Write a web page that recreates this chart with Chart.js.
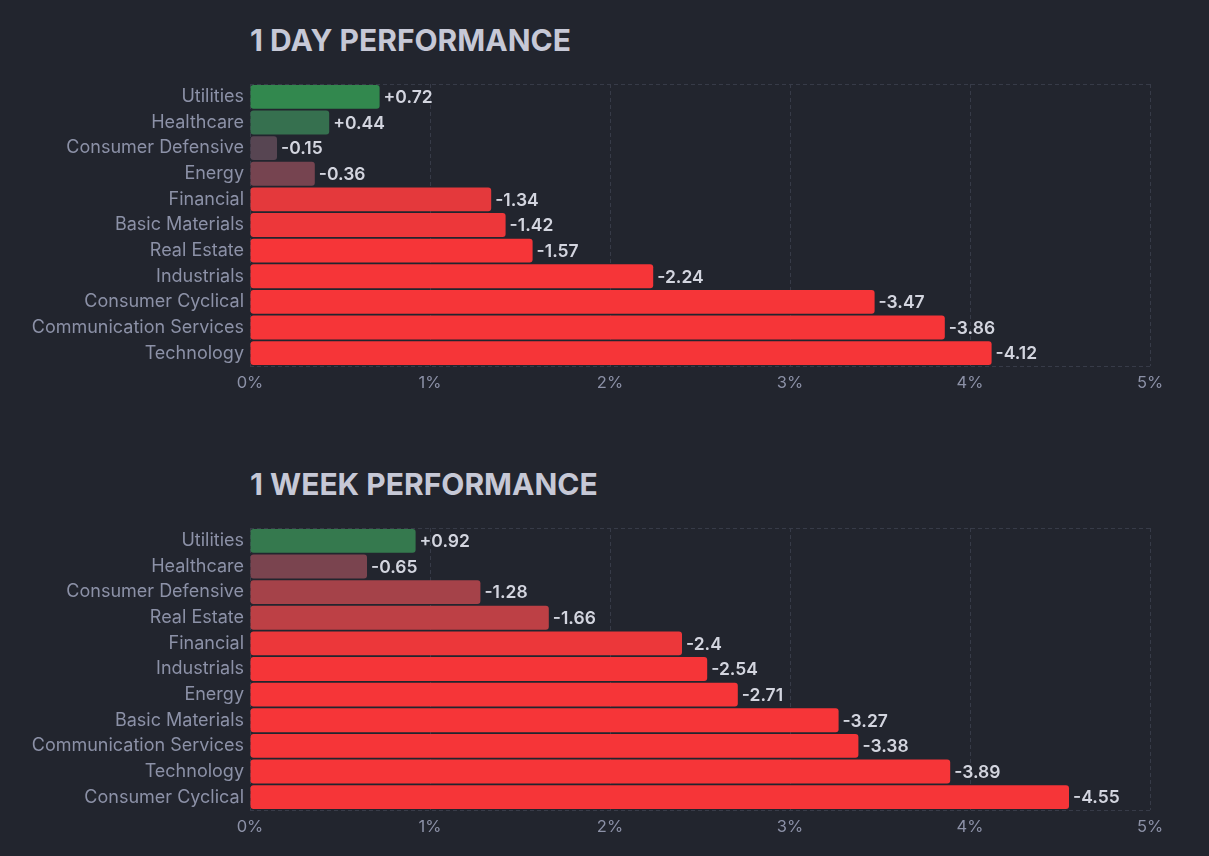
<!DOCTYPE html>
<html>
<head>
<meta charset="utf-8">
<script src="https://cdn.jsdelivr.net/npm/chart.js@4.4.1/dist/chart.umd.min.js"></script>
<style>
  html, body { margin: 0; padding: 0; background: #22252e; }
  body { width: 1209px; height: 856px; position: relative; overflow: hidden; font-family: Inter, sans-serif; }
  .title { position: absolute; left: 250px; font: 700 30px/30px Inter, sans-serif; color: #c6c8d6; }
  canvas { position: absolute; left: 0; }
</style>
</head>
<body>
<div class="title" style="top:25px">1 DAY PERFORMANCE</div>
<canvas id="dayChart" width="1209" height="340" style="top:60px"></canvas>
<div class="title" style="top:469px">1 WEEK PERFORMANCE</div>
<canvas id="weekChart" width="1209" height="340" style="top:504px"></canvas>
<script>
// ── Data ───────────────────────────────────────────────────
const dayLabels = ['Utilities', 'Healthcare', 'Consumer Defensive', 'Energy', 'Financial',
  'Basic Materials', 'Real Estate', 'Industrials', 'Consumer Cyclical',
  'Communication Services', 'Technology'];
const dayValues = [0.72, 0.44, -0.15, -0.36, -1.34, -1.42, -1.57, -2.24, -3.47, -3.86, -4.12];

const weekLabels = ['Utilities', 'Healthcare', 'Consumer Defensive', 'Real Estate', 'Financial',
  'Industrials', 'Energy', 'Basic Materials', 'Communication Services', 'Technology',
  'Consumer Cyclical'];
const weekValues = [0.92, -0.65, -1.28, -1.66, -2.4, -2.54, -2.71, -3.27, -3.38, -3.89, -4.55];

const xTickMin = 0;
const xTickMax = 5;

// ── Colours ────────────────────────────────────────────────
const negStops = ['#414554', '#8b444e', '#bf4045', '#f63538'];
const posStops = ['#414554', '#35764e', '#2f9e4f', '#30cc5a'];
const gridColor = '#373b48';

function hex(c) {
  return [1, 3, 5].map(i => parseInt(c.slice(i, i + 2), 16));
}
function barColor(v, step) {
  const stops = v < 0 ? negStops : posStops;
  const t = Math.min(Math.abs(v) / step, 3);
  const i = Math.min(Math.floor(t), 2);
  const f = t - i;
  const a = hex(stops[i]), b = hex(stops[i + 1]);
  return 'rgb(' + a.map((x, k) => Math.round(x + (b[k] - x) * f)).join(',') + ')';
}

// ── Value labels at bar ends ───────────────────────────────
const valueLabels = {
  id: 'valueLabels',
  afterDatasetsDraw(chart, args, opts) {
    const ctx = chart.ctx;
    ctx.save();
    ctx.font = '600 17.5px Inter, sans-serif';
    ctx.fillStyle = '#d3d5df';
    ctx.textAlign = 'left';
    ctx.textBaseline = 'middle';
    chart.getDatasetMeta(0).data.forEach((bar, i) => {
      const v = opts.values[i];
      ctx.fillText((v > 0 ? '+' : '') + v, bar.x + 4, bar.y + 1);
    });
    ctx.restore();
  }
};

// ── Chart builder ──────────────────────────────────────────
function perfChart(id, labels, values, step) {
  return new Chart(document.getElementById(id), {
    type: 'bar',
    data: {
      labels: labels,
      datasets: [{
        data: values.map(v => Math.abs(v)),
        backgroundColor: values.map(v => barColor(v, step)),
        borderRadius: 3,
        borderSkipped: false,
        barPercentage: 0.93,
        categoryPercentage: 1,
      }]
    },
    options: {
      indexAxis: 'y',
      responsive: false,
      animation: false,
      layout: { padding: { top: 24, right: 59, left: 0, bottom: 0 } },
      plugins: {
        legend: { display: false },
        tooltip: { enabled: false },
        valueLabels: { values: values },
      },
      scales: {
        x: {
          min: xTickMin,
          max: xTickMax,
          ticks: {
            stepSize: 1,
            color: '#8c91a7',
            font: { family: 'Inter', size: 16.5 },
            padding: 7,
            callback: v => v + '%',
          },
          grid: { color: gridColor, drawTicks: false },
          border: { display: false, dash: [4, 3] },
          afterFit: s => { s.height = 34; s.paddingLeft = 0; s.paddingRight = 0; },
        },
        y: {
          ticks: {
            color: '#8c91a7',
            font: { family: 'Inter', size: 18 },
            padding: 6,
          },
          grid: {
            drawTicks: false,
            color: c => (c.type === 'tick' && c.index > 0) ? 'transparent' : gridColor,
          },
          border: { display: false, dash: [4, 3] },
          afterFit: s => { s.width = 250; },
        }
      }
    },
    plugins: [valueLabels]
  });
}

perfChart('dayChart', dayLabels, dayValues, 0.5);
perfChart('weekChart', weekLabels, weekValues, 0.85);
</script>
</body>
</html>
